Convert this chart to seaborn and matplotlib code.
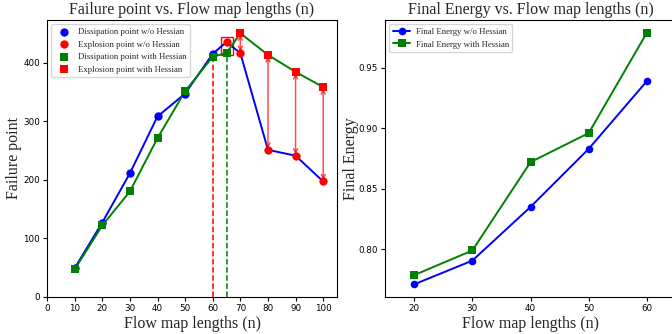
import matplotlib
matplotlib.use("Agg")
import matplotlib.pyplot as plt
import matplotlib.patches as patches
import seaborn as sns

# Failure point data (left panel)
n_left = [10, 20, 30, 40, 50, 60, 65, 70, 80, 90, 100]
fail_wo = [49, 127, 211, 308, 347, 415, 435, 416, 251, 241, 197]
fail_with = [47, 122, 180, 271, 351, 410, 416, 450, 413, 384, 358]
last_diss_wo = 60   # points after this are explosions (w/o Hessian)
last_diss_with = 65  # points after this are explosions (with Hessian)

# Final energy data (right panel)
n_right = [20, 30, 40, 50, 60]
energy_wo = [0.771, 0.7906, 0.835, 0.883, 0.939]
energy_with = [0.7786, 0.799, 0.872, 0.896, 0.979]

sns.set_style("ticks", {"axes.edgecolor": "black", "xtick.color": "black", "ytick.color": "black"})
serif = ["Liberation Serif", "DejaVu Serif"]

fig = plt.figure(figsize=(6.72, 3.34), dpi=100)
ax1 = fig.add_axes([0.070, 0.111, 0.4315, 0.829])
ax2 = fig.add_axes([0.573, 0.111, 0.433, 0.829])

# ---- left panel
sns.lineplot(x=n_left, y=fail_wo, color="blue", lw=1.4, ax=ax1, legend=False)
sns.lineplot(x=n_left, y=fail_with, color="green", lw=1.4, ax=ax1, legend=False)

diss_wo = [(n, v) for n, v in zip(n_left, fail_wo) if n <= last_diss_wo]
expl_wo = [(n, v) for n, v in zip(n_left, fail_wo) if n > last_diss_wo]
diss_with = [(n, v) for n, v in zip(n_left, fail_with) if n <= last_diss_with]
expl_with = [(n, v) for n, v in zip(n_left, fail_with) if n > last_diss_with]

sns.scatterplot(x=[p[0] for p in diss_wo], y=[p[1] for p in diss_wo], color="blue", marker="o",
                s=36, linewidth=0, ax=ax1, label="Dissipation point w/o Hessian", zorder=3)
sns.scatterplot(x=[p[0] for p in expl_wo], y=[p[1] for p in expl_wo], color="red", marker="o",
                s=36, linewidth=0, ax=ax1, label="Explosion point w/o Hessian", zorder=3)
sns.scatterplot(x=[p[0] for p in diss_with], y=[p[1] for p in diss_with], color="green", marker="s",
                s=36, linewidth=0, ax=ax1, label="Dissipation point with Hessian", zorder=3)
sns.scatterplot(x=[p[0] for p in expl_with], y=[p[1] for p in expl_with], color="red", marker="s",
                s=36, linewidth=0, ax=ax1, label="Explosion point with Hessian", zorder=3)

# double arrows between explosion points
for n, a, b in zip(n_left, fail_wo, fail_with):
    if n > last_diss_with:
        ax1.annotate("", xy=(n, a), xytext=(n, b),
                     arrowprops=dict(arrowstyle="<->", color="red", alpha=0.7, lw=1.1,
                                     mutation_scale=7, shrinkA=1, shrinkB=1))

# dashed lines at last dissipation points
i60 = n_left.index(last_diss_wo)
i65 = n_left.index(last_diss_with)
ax1.vlines(last_diss_wo, 0, fail_with[i60], colors="red", linestyles="--", lw=1.1)
ax1.vlines(last_diss_with, 0, fail_with[i65], colors="green", linestyles="--", lw=1.1)

# box around the n=65 pair
ax1.add_patch(patches.Rectangle((last_diss_with - 2, fail_with[i65] - 3), 4.3, 30,
                                fill=False, edgecolor="red", lw=1))

ax1.set_xticks(range(0, 101, 10))
ax1.set_xlim(0, 105)
ax1.set_ylim(bottom=0)
ax1.set_title("Failure point vs. Flow map lengths (n)", family=serif, fontsize=11.5, pad=4)
ax1.set_xlabel("Flow map lengths (n)", family=serif, fontsize=11.5, labelpad=2)
ax1.set_ylabel("Failure point", family=serif, fontsize=11.5, labelpad=1)
ax1.tick_params(labelsize=6.3, length=3, pad=2)
ax1.legend(loc="upper left", prop={"family": serif, "size": 6.3}, handletextpad=0.6,
           borderaxespad=0.5)

# ---- right panel
sns.lineplot(x=n_right, y=energy_wo, color="blue", marker="o", markersize=5.5, lw=1.4,
             markeredgewidth=0, ax=ax2, label="Final Energy w/o Hessian")
sns.lineplot(x=n_right, y=energy_with, color="green", marker="s", markersize=5.5, lw=1.4,
             markeredgewidth=0, ax=ax2, label="Final Energy with Hessian")
ax2.set_xticks(n_right)
ax2.set_xlim(15, 65)
ax2.set_yticks([0.80, 0.85, 0.90, 0.95])
ax2.set_title("Final Energy vs. Flow map lengths (n)", family=serif, fontsize=11.5, pad=4)
ax2.set_xlabel("Flow map lengths (n)", family=serif, fontsize=11.5, labelpad=2)
ax2.set_ylabel("Final Energy", family=serif, fontsize=11.5, labelpad=0)
ax2.tick_params(labelsize=6.3, length=3, pad=2)
ax2.legend(loc="upper left", prop={"family": serif, "size": 6.3}, handletextpad=0.6,
           borderaxespad=0.5)

fig.savefig("out.png", dpi=100)
